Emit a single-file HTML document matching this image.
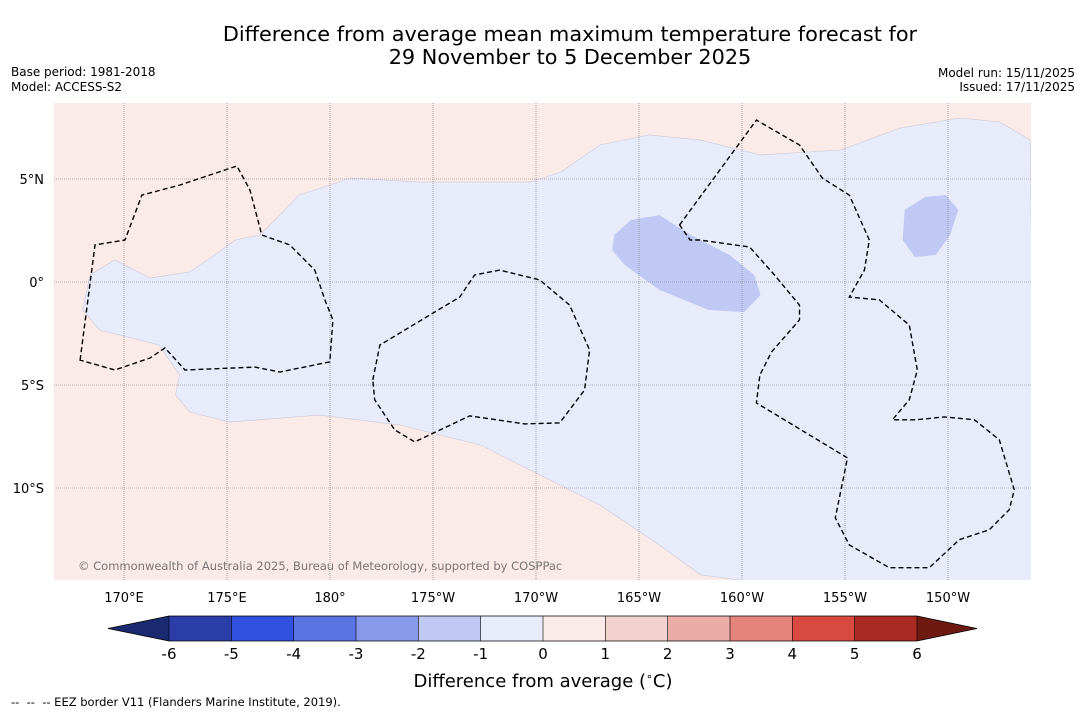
<!DOCTYPE html>
<html><head><meta charset="utf-8"><style>
body{margin:0;background:#fff;font-family:"Liberation Sans","DejaVu Sans",sans-serif;}
svg text{font-family:"DejaVu Sans","Liberation Sans",sans-serif;}
</style></head><body>
<svg id="chart" width="1085" height="713" xmlns="http://www.w3.org/2000/svg">
<text x="570" y="41" font-size="20.8" text-anchor="middle" fill="#000">Difference from average mean maximum temperature forecast for</text>
<text x="570" y="64" font-size="20.8" text-anchor="middle" fill="#000">29 November to 5 December 2025</text>
<text x="11" y="76" font-size="12">Base period: 1981-2018</text>
<text x="11" y="91" font-size="12">Model: ACCESS-S2</text>
<text x="1075" y="77" font-size="12" text-anchor="end">Model run: 15/11/2025</text>
<text x="1075" y="91" font-size="12" text-anchor="end">Issued: 17/11/2025</text>
<defs><clipPath id="mapclip"><rect x="54" y="103" width="977" height="477"/></clipPath></defs>
<rect x="54" y="103" width="977" height="477" fill="#fbebe8"/>
<g id="map" clip-path="url(#mapclip)"></g>
<g id="axes"></g>
<g id="cbar"></g>
<text x="543" y="687" font-size="18" text-anchor="middle">Difference from average (<tspan font-size="11" dy="-7">∘</tspan><tspan dy="7">C)</tspan></text>
<text x="11" y="706" font-size="11.5">--&#160;&#160;--&#160;&#160;-- EEZ border V11 (Flanders Marine Institute, 2019).</text>
</svg>
<script>
const lonTicks=[170,175,180,185,190,195,200,205,210];
const lonLabels=["170°E","175°E","180°","175°W","170°W","165°W","160°W","155°W","150°W"];
const latTicks=[5,0,-5,-10];
const latLabels=["5°N","0°","5°S","10°S"];
const anomalyRegion=[[168.0,-1.36],[168.35,0.34],[169.56,1.07],[171.26,0.19],[173.2,0.49],[174.4,1.31],[175.4,2.04],[176.6,2.28],[178.5,4.22],[181.0,5.05],[184.4,4.85],[189.7,4.85],[191.2,5.34],[193.1,6.65],[195.5,7.14],[198.0,6.89],[200.9,6.17],[204.8,6.41],[207.7,7.48],[210.6,7.96],[212.5,7.77],[214.0,6.89],[214.2,-14.6],[200.9,-14.6],[198.0,-14.22],[196.0,-12.77],[193.1,-10.83],[190.2,-9.37],[187.3,-7.91],[183.4,-6.94],[179.5,-6.46],[175.1,-6.8],[173.2,-6.31],[172.5,-5.49],[172.7,-4.51],[172.2,-3.79],[171.7,-3.06],[168.8,-2.33]];
const blobA=[[193.8,2.28],[194.6,3.01],[196.0,3.25],[197.5,2.28],[199.4,1.31],[200.6,0.34],[200.9,-0.63],[200.1,-1.46],[198.4,-1.36],[196.0,-0.39],[194.3,0.83],[193.7,1.55]];
const blobB=[[207.9,3.5],[208.9,4.13],[209.9,4.22],[210.5,3.5],[210.1,2.28],[209.4,1.31],[208.4,1.21],[207.8,2.04]];
const eezA=[[167.87,-3.79],[168.59,1.80],[170.05,2.04],[170.87,4.22],[172.72,4.71],[175.48,5.63],[176.11,4.47],[176.69,2.28],[178.05,1.80],[179.26,0.58],[179.75,-0.87],[180.14,-1.84],[179.99,-3.88],[177.57,-4.37],[176.35,-4.13],[172.96,-4.27],[171.99,-3.20],[171.26,-3.69],[169.56,-4.27]];
const eezB=[[182.08,-4.75],[182.42,-3.06],[186.30,-0.73],[187.02,0.34],[188.24,0.58],[190.18,0.10],[191.63,-1.12],[192.60,-3.30],[192.36,-5.24],[191.15,-6.84],[189.45,-6.89],[186.78,-6.50],[184.11,-7.76],[183.14,-7.18],[182.17,-5.72]];
const eezC=[[196.97,2.77],[200.70,7.86],[202.79,6.65],[203.90,5.05],[205.21,4.22],[206.18,2.04],[205.94,0.58],[205.21,-0.73],[206.67,-0.87],[208.12,-2.09],[208.51,-4.27],[208.12,-5.72],[207.30,-6.69],[208.46,-6.69],[209.82,-6.55],[211.28,-6.69],[212.49,-7.66],[213.22,-10.09],[212.97,-11.06],[212.00,-12.03],[210.55,-12.51],[209.09,-13.87],[207.15,-13.87],[205.21,-12.76],[204.53,-11.45],[205.12,-8.54],[200.70,-5.87],[200.87,-4.51],[201.43,-3.40],[202.79,-1.84],[202.79,-1.12],[201.58,0.34],[200.37,1.70],[197.94,2.04],[197.48,2.04]];
const cbarValues=[-6,-5,-4,-3,-2,-1,0,1,2,3,4,5,6];
const cbarColors=["#2b3ea8","#3050e0","#5a74e4","#8898ea","#c0c8f4","#e8ebfa","#fbebe8","#f2d2ce","#ebaca6","#e5847c","#d84a40","#a82a22"];
const NS="http://www.w3.org/2000/svg";
const X=lon=>124+(lon-170)*20.6, Y=lat=>282-lat*20.6;
function mk(tag,attrs,parent){const e=document.createElementNS(NS,tag);for(const k in attrs)e.setAttribute(k,attrs[k]);parent.appendChild(e);return e;}
const pts=a=>a.map(p=>X(p[0]).toFixed(1)+","+Y(p[1]).toFixed(1)).join(" ");
const map=document.getElementById("map");
let e=mk("polygon",{points:pts(anomalyRegion),fill:"#e8ebfa",stroke:"#c8c8d8","stroke-width":0.6},map);


e=mk("polygon",{points:pts(blobA),fill:"#c0c8f4"},map);


e=mk("polygon",{points:pts(blobB),fill:"#c0c8f4"},map);


const ax=document.getElementById("axes");
lonTicks.forEach((l,i)=>{
 let g=mk("line",{x1:X(l),x2:X(l),y1:103,y2:580,stroke:"#777","stroke-width":0.6,"stroke-dasharray":"1,1"},map);
 
 
 let t=mk("text",{x:X(l),y:602,"font-size":13,"text-anchor":"middle"},ax);t.textContent=lonLabels[i];
 
 
});
latTicks.forEach((l,i)=>{
 let g=mk("line",{x1:54,x2:1031,y1:Y(l),y2:Y(l),stroke:"#777","stroke-width":0.6,"stroke-dasharray":"1,1"},map);
 
 
 let t=mk("text",{x:44,y:Y(l)+5,"font-size":13,"text-anchor":"end"},ax);t.textContent=latLabels[i];
 
 
});
[eezA,eezB,eezC].forEach(a=>{
 let p=mk("polygon",{points:pts(a),fill:"none",stroke:"#000","stroke-width":1.4,"stroke-dasharray":"5,3"},map);
 
 
});
let c=mk("text",{x:78,y:570,"font-size":11.5,fill:"#777"},map);c.textContent="© Commonwealth of Australia 2025, Bureau of Meteorology, supported by COSPPac";


const cb=document.getElementById("cbar");
const CX=v=>543+v*62.33;
for(let i=0;i<cbarColors.length;i++){
 let r=mk("rect",{x:CX(cbarValues[i]),y:616,width:CX(cbarValues[i+1])-CX(cbarValues[i]),height:25,fill:cbarColors[i]},cb);
 
 
}
let tl=mk("polygon",{points:`108,628.5 ${CX(-6)},616 ${CX(-6)},641`,fill:"#1a2a70"},cb);


let th=mk("polygon",{points:`977,628.5 ${CX(6)},616 ${CX(6)},641`,fill:"#6e1a12"},cb);


let ol=mk("polygon",{points:`108,628.5 ${CX(-6)},616 ${CX(6)},616 977,628.5 ${CX(6)},641 ${CX(-6)},641`,fill:"none",stroke:"#000","stroke-width":0.8},cb);


cbarValues.forEach(v=>{
 let l=mk("line",{x1:CX(v),x2:CX(v),y1:616,y2:641,stroke:"#000","stroke-width":0.6},cb);
 
 
 let t=mk("text",{x:CX(v),y:659,"font-size":15,"text-anchor":"middle"},cb);t.textContent=v;
 
 
});
</script>
</body></html>
